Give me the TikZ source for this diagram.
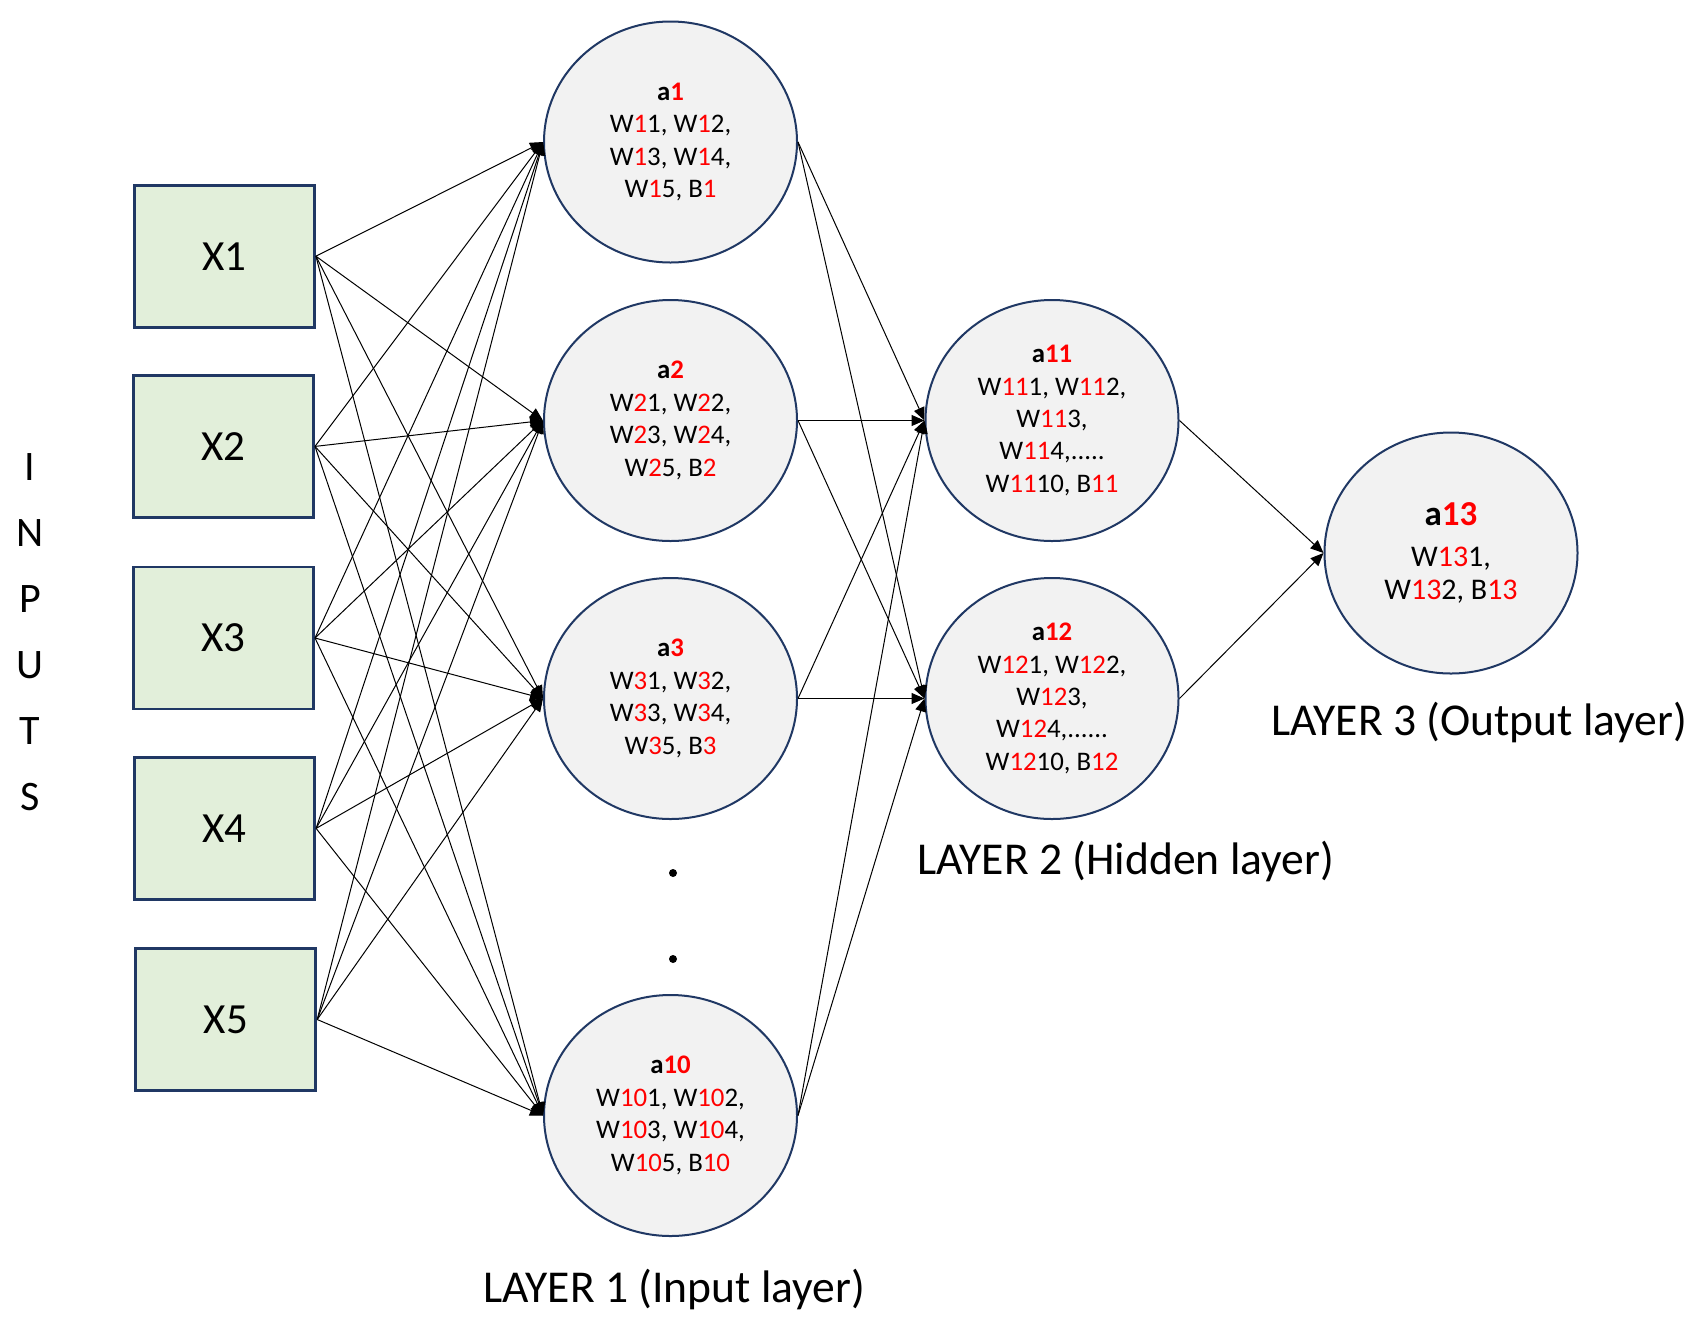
\documentclass[tikz,border=0pt]{standalone}
\usepackage{fontspec}
\setmainfont{Carlito}
\usetikzlibrary{shapes.geometric,arrows.meta}
\definecolor{navy}{HTML}{203864}
\definecolor{boxfill}{HTML}{E2EFDA}
\definecolor{ellfill}{HTML}{F2F2F2}
\definecolor{myred}{HTML}{FF0000}
\newcommand\redt[1]{\textcolor{myred}{#1}}
\begin{document}
\begin{tikzpicture}[x=0.5pt,y=-0.5pt,
  inbox/.style={draw=navy,line width=1.4pt,fill=boxfill,minimum width=90pt,minimum height=71pt,inner sep=0pt,font=\fontsize{21.5}{26}\selectfont},
  neuron/.style={ellipse,draw=navy,line width=1pt,fill=ellfill,minimum width=126.5pt,minimum height=120.5pt,inner sep=0pt,align=center,font=\fontsize{13.4}{16.2}\selectfont},
  conn/.style={-{Triangle[length=6.5pt,width=5.5pt]},line width=0.5pt,black},
  lbl/.style={anchor=base west,inner sep=0pt,font=\fontsize{22.8}{27}\selectfont},
  dotnode/.style={circle,fill=black,inner sep=0pt,minimum size=4pt}]
\fill[white] (0,0) rectangle (1708,1318);
\useasboundingbox (0,0) rectangle (1708,1318);

% inputs
\node[inbox] (x1) at (224.5,256.2) {X1};
\node[inbox] (x2) at (223.6,446.4) {X2};
\node[inbox] (x3) at (223.6,638) {X3};
\node[inbox] (x4) at (224.7,828.4) {X4};
\node[inbox] (x5) at (225.8,1019.5) {X5};

\node[anchor=north,align=center,inner sep=0pt,font=\fontsize{21}{33}\selectfont] (inputs) at (30,453) {I\\N\\P\\U\\T\\S};

% layer 1
\node[neuron] (a1) at (670.5,142) {\textbf{a\redt{1}}\\W\redt{1}1, W\redt{1}2,\\W\redt{1}3, W\redt{1}4,\\W\redt{1}5, B\redt{1}};
\node[neuron] (a2) at (670.5,420.5) {\textbf{a\redt{2}}\\W\redt{2}1, W\redt{2}2,\\W\redt{2}3, W\redt{2}4,\\W\redt{2}5, B\redt{2}};
\node[neuron] (a3) at (670.5,698.5) {\textbf{a\redt{3}}\\W\redt{3}1, W\redt{3}2,\\W\redt{3}3, W\redt{3}4,\\W\redt{3}5, B\redt{3}};
\node[neuron] (a10) at (670.5,1115.5) {\textbf{a\redt{10}}\\W\redt{10}1, W\redt{10}2,\\W\redt{10}3, W\redt{10}4,\\W\redt{10}5, B\redt{10}};

\node[dotnode] (dot1) at (673,873) {};
\node[dotnode] (dot2) at (673,959) {};

% layer 2
\node[neuron] (a11) at (1052,420.5) {\textbf{a\redt{11}}\\W\redt{11}1, W\redt{11}2,\\W\redt{11}3,\\W\redt{11}4,.....\\W\redt{11}10, B\redt{11}};
\node[neuron] (a12) at (1052,698.5) {\textbf{a\redt{12}}\\W\redt{12}1, W\redt{12}2,\\W\redt{12}3,\\W\redt{12}4,......\\W\redt{12}10, B\redt{12}};

% layer 3
\node[neuron,font=\fontsize{15}{16.8}\selectfont] (a13) at (1451,553) {{\fontsize{17.5}{20}\selectfont\textbf{a\redt{13}}}\\[3.7pt]W\redt{13}1,\\W\redt{13}2, B\redt{13}};

% labels
\node[lbl] (l1) at (483,1302) {LAYER 1 (Input layer)};
\node[lbl] (l2) at (917,874) {LAYER 2 (Hidden layer)};
\node[lbl] (l3) at (1271,735) {LAYER 3 (Output layer)};

% connectors
\foreach \i in {1,...,5}
  \foreach \j in {a1,a2,a3,a10}
    \draw[conn] (x\i.east) -- (\j.west);
\foreach \j in {a1,a2,a3,a10}
  \foreach \k in {a11,a12}
    \draw[conn] (\j.east) -- (\k.west);
\draw[conn] (a11.east) -- (a13.west);
\draw[conn] (a12.east) -- (a13.west);
\end{tikzpicture}
\end{document}
